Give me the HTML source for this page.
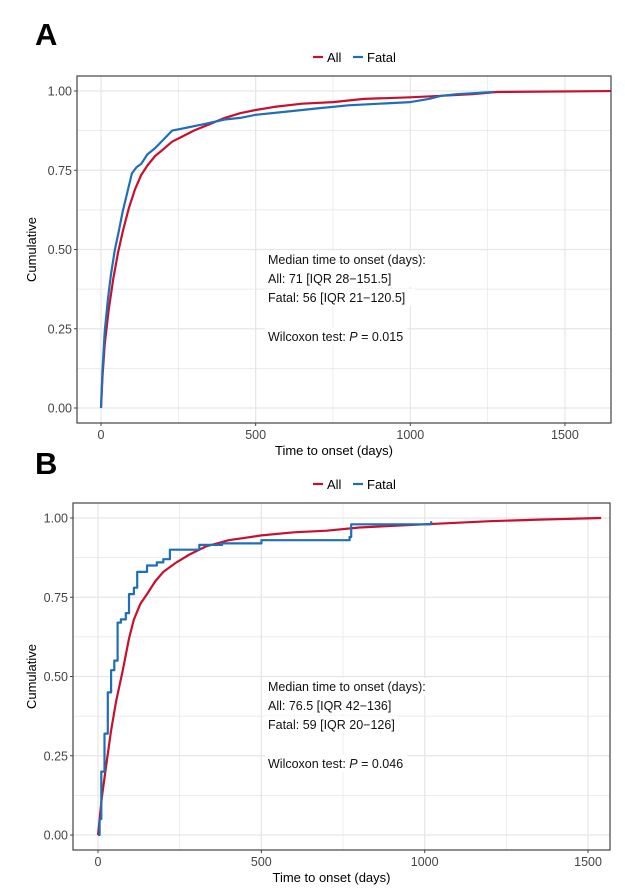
<!DOCTYPE html>
<html><head><meta charset="utf-8"><style>
body{margin:0;background:#fff;}
svg{display:block;font-family:"Liberation Sans",Arial,sans-serif;}
</style></head><body>
<svg id="s" width="625" height="890" viewBox="0 0 625 890" xmlns="http://www.w3.org/2000/svg">
<rect width="625" height="890" fill="#fff"/>
<text x="35" y="45" font-size="31" font-weight="bold">A</text>
<text x="35" y="474" font-size="31" font-weight="bold">B</text>
<g id="A"></g><g id="B"></g>
</svg>
<script>
function panel(g,o){
  let h="";
  const X=d=>o.x0+d*o.sx, Y=v=>o.y0-v*o.sy;
  h+=`<clipPath id="c${g}"><rect x="${o.L}" y="${o.T}" width="${o.R-o.L}" height="${o.B-o.T}"/></clipPath>`;
  for(let v=0;v<=1.001;v+=0.125){h+=`<line x1="${o.L}" x2="${o.R}" y1="${Y(v)}" y2="${Y(v)}" stroke="#e6e6e6" stroke-width="${(v*4)%1<0.01?1.2:0.7}"/>`;}
  for(let d=0;d<=o.max;d+=250){h+=`<line y1="${o.T}" y2="${o.B}" x1="${X(d)}" x2="${X(d)}" stroke="#e6e6e6" stroke-width="${d%500==0?1.2:0.7}"/>`;}
  const tx=268;
  o.ty.forEach((y,i)=>{h+=`<rect x="${tx-3}" y="${y-13}" width="${o.tw[i]}" height="17" fill="#fff"/>`;});
  o.txt.forEach((t,i)=>{h+=`<text x="${tx}" y="${o.ty[i]}" font-size="12.5" fill="#111">${t}</text>`;});
  function pl(pts,c,step){let p=[];pts.forEach((q,i)=>{if(step&&i>0)p.push([X(q[0]),Y(pts[i-1][1])]);p.push([X(q[0]),Y(q[1])]);});
    return `<polyline clip-path="url(#c${g})" points="${p.map(a=>a[0].toFixed(1)+","+a[1].toFixed(1)).join(" ")}" fill="none" stroke="${c}" stroke-width="2.2" stroke-linejoin="round"/>`;}
  h+=pl(o.red,"#c8102e",false);
  h+=pl(o.blue,"#1f6fb8",o.step);
  h+=`<rect x="${o.L}" y="${o.T}" width="${o.R-o.L}" height="${o.B-o.T}" fill="none" stroke="#444" stroke-width="1.2"/>`;
  ["0.00","0.25","0.50","0.75","1.00"].forEach((t,i)=>{const y=Y(i*0.25);h+=`<line x1="${o.L-3}" x2="${o.L}" y1="${y}" y2="${y}" stroke="#444"/><text x="${o.L-5}" y="${y+4.5}" font-size="12.5" fill="#444" text-anchor="end">${t}</text>`;});
  [0,500,1000,1500].forEach(d=>{const x=X(d);h+=`<line x1="${x}" x2="${x}" y1="${o.B}" y2="${o.B+3}" stroke="#444"/><text x="${x}" y="${o.B+16}" font-size="12.5" fill="#444" text-anchor="middle">${d}</text>`;});
  h+=`<text x="${(o.L+o.R)/2-10}" y="${o.B+32}" font-size="13" text-anchor="middle">Time to onset (days)</text>`;
  const cy=(o.T+o.B)/2;h+=`<text transform="translate(36,${cy}) rotate(-90)" font-size="13" text-anchor="middle">Cumulative</text>`;
  const ly=o.T-19;
  h+=`<line x1="313" x2="323" y1="${ly}" y2="${ly}" stroke="#c8102e" stroke-width="2.2"/><text x="327" y="${ly+5}" font-size="13">All</text>`;
  h+=`<line x1="353" x2="363" y1="${ly}" y2="${ly}" stroke="#1f6fb8" stroke-width="2.2"/><text x="367" y="${ly+5}" font-size="13">Fatal</text>`;
  document.getElementById(g).innerHTML=h;
}
panel("A",{L:77,R:611,T:76,B:423,x0:101,sx:0.3093,y0:408,sy:317,max:1650,step:false,
 ty:[264,283,302,341],tw:[198,148,150,142],
 txt:["Median time to onset (days):","All: 71 [IQR 28\u2212151.5]","Fatal: 56 [IQR 21\u2212120.5]","Wilcoxon test: <tspan font-style='italic'>P</tspan> = 0.015"],
 red:[[0,0],[5,0.1],[12,0.2],[25,0.31],[40,0.41],[55,0.49],[71,0.56],[90,0.63],[110,0.69],[130,0.735],[150,0.765],[175,0.795],[200,0.815],[230,0.84],[260,0.855],[300,0.875],[350,0.895],[400,0.915],[450,0.93],[500,0.94],[560,0.95],[650,0.96],[750,0.965],[850,0.975],[1000,0.98],[1100,0.985],[1200,0.99],[1280,0.997],[1680,1]],
 blue:[[0,0],[5,0.12],[12,0.24],[22,0.34],[32,0.42],[45,0.5],[56,0.55],[70,0.62],[85,0.68],[100,0.74],[115,0.76],[130,0.77],[150,0.8],[175,0.82],[200,0.845],[215,0.86],[230,0.875],[280,0.885],[330,0.895],[400,0.91],[450,0.915],[500,0.925],[600,0.935],[700,0.945],[800,0.955],[900,0.96],[1000,0.965],[1060,0.975],[1100,0.985],[1150,0.99],[1270,0.997]]});
panel("B",{L:73,R:610,T:503,B:850,x0:98,sx:0.3267,y0:835,sy:317,max:1600,step:true,
 ty:[691,710,729,768],tw:[198,132,132,142],
 txt:["Median time to onset (days):","All: 76.5 [IQR 42\u2212136]","Fatal: 59 [IQR 20\u2212126]","Wilcoxon test: <tspan font-style='italic'>P</tspan> = 0.046"],
 red:[[0,0],[5,0.05],[12,0.12],[25,0.22],[40,0.33],[55,0.42],[76,0.52],[95,0.62],[110,0.68],[130,0.73],[150,0.76],[175,0.8],[200,0.83],[240,0.86],[280,0.885],[330,0.91],[400,0.93],[500,0.945],[600,0.955],[700,0.96],[800,0.97],[1000,0.98],[1200,0.99],[1350,0.995],[1540,1]],
 blue:[[0,0],[5,0.05],[10,0.2],[20,0.32],[30,0.45],[40,0.52],[50,0.55],[60,0.67],[70,0.68],[85,0.7],[95,0.76],[110,0.78],[120,0.83],[150,0.85],[180,0.86],[200,0.87],[220,0.9],[310,0.915],[380,0.92],[500,0.93],[770,0.94],[775,0.98],[1020,0.99]]});
</script>
</body></html>
